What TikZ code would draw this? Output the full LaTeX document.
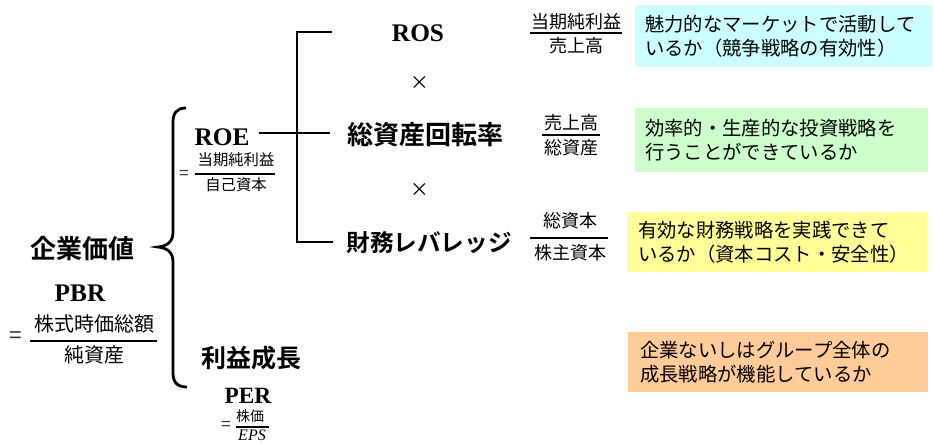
\documentclass[tikz,border=0pt]{standalone}
\usepackage{fontspec}
\setmainfont{Liberation Serif}
\newfontfamily\jp{Noto Sans CJK JP}[BoldFont={Noto Sans CJK JP Bold}]
\definecolor{bcyan}{HTML}{CCFFFF}
\definecolor{bgreen}{HTML}{CCFFCC}
\definecolor{byellow}{HTML}{FFFF99}
\definecolor{borange}{HTML}{FFCC99}
\begin{document}
\begin{tikzpicture}[x=0.75pt,y=-0.75pt,
  big/.style={font=\jp\bfseries\fontsize{19.5}{22}\selectfont, inner sep=0},
  ser/.style={font=\bfseries\fontsize{19}{22}\selectfont, inner sep=0},
  fr/.style={font=\jp\fontsize{13.5}{16}\selectfont, inner sep=0},
  frs/.style={font=\jp\fontsize{11.5}{14}\selectfont, inner sep=0},
  eqs/.style={font=\jp\fontsize{17}{18}\selectfont, inner sep=0, text=black!80},
  tms/.style={font=\jp\fontsize{14}{16}\selectfont, inner sep=0},
  bk/.style={line width=2.1pt},
  bar/.style={line width=0.9pt},
  box/.style={inner ysep=0, align=left, anchor=north west, font=\jp\fontsize{14.5}{18.5}\selectfont},
]
\useasboundingbox (0,0) rectangle (934,443);
\clip (0,0) rectangle (934,443);

% left
\node[big] (kigyo) at (82,249) {企業価値};
\node[ser] (pbr) at (80,293) {PBR};
\node[eqs] (pbreq) at (16,338) {=};
\node[font=\jp\fontsize{15}{18}\selectfont, inner sep=0] (pbrn) at (94,324) {株式時価総額};
\node[font=\jp\fontsize{15}{18}\selectfont, inner sep=0] (pbrd) at (94,355) {純資産};
\draw[bar] (30,341) -- (157,341);

% brace
\draw[bk] (186,108) .. controls (177,108) and (173,113) .. (173,122) -- (173,232)
  .. controls (173,241) and (168,246) .. (158,247)
  .. controls (168,248) and (173,253) .. (173,262) -- (173,373)
  .. controls (173,382) and (177,387) .. (187,387);

% ROE
\node[ser] (roe) at (222,137) {ROE};
\node[eqs, font=\jp\fontsize{13}{14}\selectfont] (roeeq) at (184,175) {=};
\node[frs] (roen) at (236,160) {当期純利益};
\node[frs] (roed) at (236,185) {自己資本};
\draw[bar] (195,174) -- (275,174);

% growth
\node[big, font=\jp\bfseries\fontsize{18.75}{22}\selectfont] (rieki) at (251,358) {利益成長};
\node[ser, font=\bfseries\fontsize{17.5}{20}\selectfont] (per) at (248,396) {PER};
\node[eqs, font=\jp\fontsize{13}{14}\selectfont] (pereq) at (226,426) {=};
\node[font=\jp\fontsize{10.5}{12}\selectfont, inner sep=0] (pern) at (250,416) {株価};
\node[font=\itshape\fontsize{12}{13}\selectfont, inner sep=0] (perd) at (252,435.5) {EPS};
\draw[bar] (236,427) -- (269,427);

% right column
\node[ser] (ros) at (418,33) {ROS};
\node[tms] (x1) at (420,83) {×};
\node[big] (sat) at (425,135) {総資産回転率};
\node[tms] (x2) at (420,190) {×};
\node[big, font=\jp\bfseries\fontsize{17.7}{22}\selectfont] (lev) at (429,243) {財務レバレッジ};

% bracket
\coordinate (jt) at (297,32);
\coordinate (jb) at (297,242);
\coordinate (t1) at (332,32);
\coordinate (t2) at (330,133);
\coordinate (t3) at (333,242);
\path ([xshift=7pt]roe.east) coordinate (r0);
\draw[bk] (t1) -- (jt) -- (jb) -- (t3);
\draw[bk] (r0 |- t2) -- (t2);

% fractions right
\node[fr] (f1n) at (576,22) {当期純利益};
\node[fr] (f1d) at (576,46) {売上高};
\draw[bar] (530,33) -- (622,33);
\node[fr] (f2n) at (571,123) {売上高};
\node[fr] (f2d) at (571,148) {総資産};
\draw[bar] (542,135) -- (600,135);
\node[fr] (f3n) at (570,221) {総資本};
\node[fr] (f3d) at (570,253) {株主資本};
\draw[bar] (530,238) -- (608,238);

% boxes
\node[box, fill=bcyan, inner xsep=7.5pt, minimum width=222.75pt, minimum height=46.5pt, text width=207.75pt] (b1) at (635,5)
  {魅力的なマーケットで活動して\\いるか（競争戦略の有効性）};
\node[box, fill=bgreen, inner xsep=7.5pt, minimum width=219.75pt, minimum height=48pt, text width=204.75pt] (b2) at (635,108)
  {効率的・生産的な投資戦略を\\行うことができているか};
\node[box, fill=byellow, inner xsep=8.25pt, minimum width=225pt, minimum height=45pt, text width=208.5pt] (b3) at (627,212)
  {有効な財務戦略を実践できて\\いるか（資本コスト・安全性）};
\node[box, fill=borange, inner xsep=9pt, minimum width=225pt, minimum height=45pt, text width=207pt] (b4) at (628,332)
  {企業ないしはグループ全体の\\成長戦略が機能しているか};
\end{tikzpicture}
\end{document}
